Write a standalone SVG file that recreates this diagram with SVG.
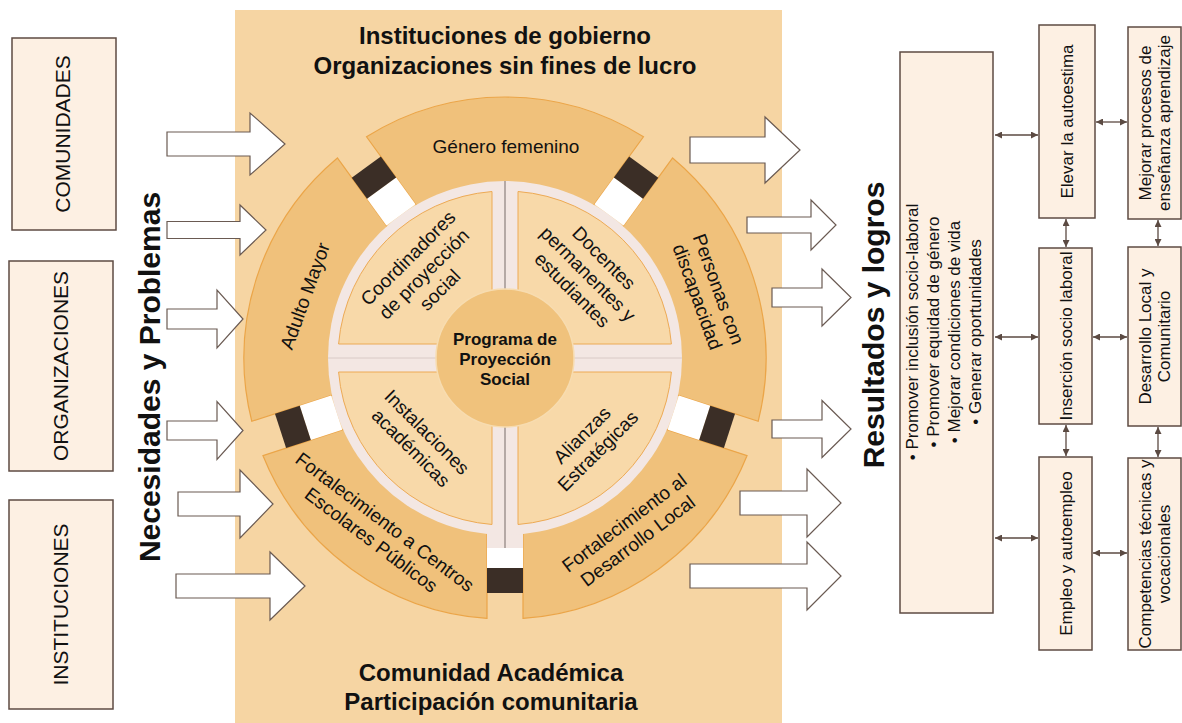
<svg xmlns="http://www.w3.org/2000/svg" width="1182" height="723" viewBox="0 0 1182 723">
<style>
.box{fill:#FDF0E3;stroke:#5E4B43;stroke-width:1.5}
.arr{fill:#FFFFFF;stroke:#6A5A52;stroke-width:1.2}
.seg{fill:#F0C17B;stroke:#EBA548;stroke-width:1.2}
.quad{fill:#F8D9A9;stroke:#EDAA55;stroke-width:1}
.dark{fill:#3B2E26}
.white{fill:#FFFFFF}
.con{stroke:#5B4A42;stroke-width:1.3;fill:none;marker-start:url(#ah);marker-end:url(#ah)}
text{font-family:"Liberation Sans",Arial,Helvetica,sans-serif;fill:#111111;text-anchor:middle}
.lbl{font-size:21px}
.big{font-size:30px;font-weight:bold}
.hdr{font-size:24px;font-weight:bold}
.c19{font-size:19px}
.r17{font-size:17px}
.ctr{font-size:17px;font-weight:bold}
</style>
<defs>
<marker id="ah" viewBox="0 0 10 10" refX="10" refY="5" markerWidth="8" markerHeight="7" orient="auto-start-reverse" markerUnits="userSpaceOnUse">
<path d="M0,0 L10,5 L0,10 Z" fill="#5B4A42"/>
</marker>
</defs>
<rect width="1182" height="723" fill="#FFFFFF"/>

<g id="panel">
<rect x="235" y="10" width="547" height="713" fill="#F6D5A3"/>
<text class="hdr" x="505" y="44">Instituciones de gobierno</text>
<text class="hdr" x="505" y="74">Organizaciones sin fines de lucro</text>
<text class="hdr" x="491" y="681">Comunidad Académica</text>
<text class="hdr" x="491" y="710">Participación comunitaria</text>
</g>

<g id="left-sources">
<g id="comunidades"><rect class="box" x="12" y="38" width="104" height="192"/><text class="lbl" transform="translate(62.5,134) rotate(-90)" y="7.5">COMUNIDADES</text></g>
<g id="organizaciones"><rect class="box" x="9" y="261" width="104" height="210"/><text class="lbl" transform="translate(60.5,366) rotate(-90)" y="7.5">ORGANIZACIONES</text></g>
<g id="instituciones"><rect class="box" x="9" y="500" width="104" height="209"/><text class="lbl" transform="translate(60.5,604.5) rotate(-90)" y="7.5">INSTITUCIONES</text></g>
<text class="big" transform="translate(149,377) rotate(-90)" y="11">Necesidades y Problemas</text>
</g>

<g id="flow-arrows">
<path class="arr" d="M167,132 H250 V113 L285,144 L250,175 V156 H167 Z"/>
<path class="arr" d="M167,221.5 H240 V205 L266,230 L240,255 V238.5 H167 Z"/>
<path class="arr" d="M167,309 H217 V290 L243,319 L217,348 V329 H167 Z"/>
<path class="arr" d="M167,421 H217 V401.5 L243,430.5 L217,459.5 V440 H167 Z"/>
<path class="arr" d="M178,492 H240 V470 L273,504 L240,538 V516 H178 Z"/>
<path class="arr" d="M176,574 H270 V552 L305,586 L270,620 V598 H176 Z"/>
<path class="arr" d="M690,137 H765 V117 L800,150 L765,183 V163 H690 Z"/>
<path class="arr" d="M747,217 H811 V200 L836,225 L811,250 V233 H747 Z"/>
<path class="arr" d="M772,288 H822 V269 L851,297.5 L822,326 V307 H772 Z"/>
<path class="arr" d="M772,420 H822 V400.5 L851,429 L822,457.5 V438 H772 Z"/>
<path class="arr" d="M740,491 H807 V469 L841,503 L807,537 V515 H740 Z"/>
<path class="arr" d="M690,564 H807 V542 L841,576 L807,610 V588 H690 Z"/>
</g>

<g id="outer-ring">
<g id="genero-femenino"><path class="seg" d="M366.51,136.77 A261,261 0 0 1 643.49,136.77 L589.8,210.67 A170,170 0 0 0 420.2,210.67 Z"/></g>
<g id="personas-discapacidad"><path class="seg" d="M672.61,157.93 A261,261 0 0 1 758.21,421.34 L671.33,393.11 A170,170 0 0 0 618.92,231.83 Z"/></g>
<g id="desarrollo-local"><path class="seg" d="M747.09,455.58 A261,261 0 0 1 523,618.38 L523,527.04 A170,170 0 0 0 660.21,427.35 Z"/></g>
<g id="centros-escolares"><path class="seg" d="M487,618.38 A261,261 0 0 1 262.91,455.58 L349.79,427.35 A170,170 0 0 0 487,527.04 Z"/></g>
<g id="adulto-mayor"><path class="seg" d="M251.79,421.34 A261,261 0 0 1 337.39,157.93 L391.08,231.83 A170,170 0 0 0 338.67,393.11 Z"/></g>
</g>

<g id="gap-blocks">
<g transform="rotate(-36,505,358)"><rect class="white" x="487" y="148" width="36" height="33"/><rect class="dark" x="487" y="122" width="36" height="26"/></g>
<g transform="rotate(36,505,358)"><rect class="white" x="487" y="148" width="36" height="33"/><rect class="dark" x="487" y="122" width="36" height="26"/></g>
<g transform="rotate(108,505,358)"><rect class="white" x="487" y="148" width="36" height="33"/><rect class="dark" x="487" y="122" width="36" height="26"/></g>
<g transform="rotate(252,505,358)"><rect class="white" x="487" y="148" width="36" height="33"/><rect class="dark" x="487" y="122" width="36" height="26"/></g>
<rect x="487" y="530" width="36" height="18" fill="#F3E7E3"/>
<rect class="white" x="487" y="548" width="36" height="20"/>
<rect class="dark" x="487" y="568" width="36" height="25"/>
</g>

<g id="inner-ring">
<circle cx="505" cy="358" r="177" fill="#F3E7E3"/>
<path class="quad" d="M492,344 L492,191.51 A167,167 0 0 0 338.59,344 Z"/>
<path class="quad" d="M518,344 L518,191.51 A167,167 0 0 1 671.41,344 Z"/>
<path class="quad" d="M492,372 L338.59,372 A167,167 0 0 0 492,524.49 Z"/>
<path class="quad" d="M518,372 L518,524.49 A167,167 0 0 0 671.41,372 Z"/>
<line x1="505" y1="181" x2="505" y2="548" stroke="#8C807C" stroke-width="1.2"/>
<line x1="328" y1="358" x2="682" y2="358" stroke="#D9CAC6" stroke-width="1"/>
</g>

<g id="centro">
<circle cx="505" cy="358" r="69" fill="#F0C27C" stroke="#F7DCB0" stroke-width="1.5"/>
<text class="ctr"><tspan x="505" y="345">Programa de</tspan><tspan x="505" y="365">Proyección</tspan><tspan x="505" y="385">Social</tspan></text>
</g>

<g id="ring-labels">
<text class="c19" x="506" y="152.5">Género femenino</text>
<text class="c19" transform="translate(305,296) rotate(-70)" y="6.5">Adulto Mayor</text>
<text class="c19" transform="translate(708,293) rotate(70)"><tspan x="0" y="-4.75">Personas con</tspan><tspan x="0" y="17.75">discapacidad</tspan></text>
<text class="c19" transform="translate(378,531) rotate(37)"><tspan x="0" y="-4.75">Fortalecimiento a Centros</tspan><tspan x="0" y="17.75">Escolares Públicos</tspan></text>
<text class="c19" transform="translate(631,532) rotate(-37)"><tspan x="0" y="-4.75">Fortalecimiento al</tspan><tspan x="0" y="17.75">Desarrollo Local</tspan></text>
<text class="c19" transform="translate(424,274) rotate(-45)"><tspan x="0" y="-16">Coordinadores</tspan><tspan x="0" y="6.5">de proyección</tspan><tspan x="0" y="29">social</tspan></text>
<text class="c19" transform="translate(588,274) rotate(45)"><tspan x="0" y="-16">Docentes</tspan><tspan x="0" y="6.5">permanentes y</tspan><tspan x="0" y="29">estudiantes</tspan></text>
<text class="c19" transform="translate(419,440) rotate(45)"><tspan x="0" y="-4.75">Instalaciones</tspan><tspan x="0" y="17.75">académicas</tspan></text>
<text class="c19" transform="translate(590,443) rotate(-45)"><tspan x="0" y="-4.75">Alianzas</tspan><tspan x="0" y="17.75">Estratégicas</tspan></text>
</g>

<g id="results">
<text class="big" transform="translate(873,325) rotate(-90)" y="11">Resultados y logros</text>
<g id="objetivos"><rect class="box" x="900" y="52" width="93" height="561"/>
<text class="r17" transform="translate(946.5,332) rotate(-90)"><tspan x="0" y="-28.5">• Promover inclusión socio-laboral</tspan><tspan x="0" y="-7.5">• Promover equidad de género</tspan><tspan x="0" y="13.5">• Mejorar condiciones de vida</tspan><tspan x="0" y="34.5">• Generar oportunidades</tspan></text></g>
<g id="autoestima"><rect class="box" x="1039" y="25" width="56" height="193"/><text class="r17" transform="translate(1067,121.5) rotate(-90)" y="6">Elevar la autoestima</text></g>
<g id="insercion"><rect class="box" x="1039" y="248" width="53" height="176"/><text class="r17" transform="translate(1065.5,336) rotate(-90)" y="6">Inserción socio laboral</text></g>
<g id="empleo"><rect class="box" x="1039" y="457" width="53" height="193"/><text class="r17" transform="translate(1065.5,553.5) rotate(-90)" y="6">Empleo y autoempleo</text></g>
<g id="ensenanza"><rect class="box" x="1128" y="27" width="53" height="192"/><text class="r17" transform="translate(1154.5,123) rotate(-90)"><tspan x="0" y="-3.5">Mejorar procesos de</tspan><tspan x="0" y="15.5">enseñanza aprendizaje</tspan></text></g>
<g id="desarrollo"><rect class="box" x="1128" y="247" width="53" height="179"/><text class="r17" transform="translate(1154.5,336.5) rotate(-90)"><tspan x="0" y="-3.5">Desarrollo Local y</tspan><tspan x="0" y="15.5">Comunitario</tspan></text></g>
<g id="competencias"><rect class="box" x="1128" y="458" width="53" height="192"/><text class="r17" transform="translate(1154.5,554) rotate(-90)"><tspan x="0" y="-3.5">Competencias técnicas y</tspan><tspan x="0" y="15.5">vocacionales</tspan></text></g>
</g>

<g id="connectors">
<line class="con" x1="995" y1="135" x2="1038" y2="135"/>
<line class="con" x1="995" y1="337" x2="1038" y2="337"/>
<line class="con" x1="995" y1="538" x2="1038" y2="538"/>
<line class="con" x1="1096" y1="122" x2="1127" y2="122"/>
<line class="con" x1="1093" y1="337" x2="1127" y2="337"/>
<line class="con" x1="1093" y1="553" x2="1127" y2="553"/>
<line class="con" x1="1066" y1="219" x2="1066" y2="247"/>
<line class="con" x1="1158" y1="220" x2="1158" y2="246"/>
<line class="con" x1="1066" y1="425" x2="1066" y2="456"/>
<line class="con" x1="1158" y1="427" x2="1158" y2="457"/>
</g>
</svg>
